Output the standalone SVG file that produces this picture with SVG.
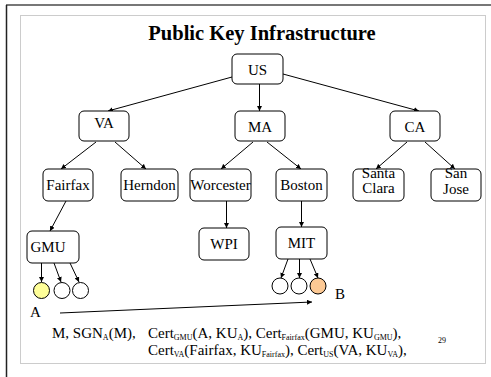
<svg xmlns="http://www.w3.org/2000/svg" width="491" height="377" viewBox="0 0 491 377" font-family="'Liberation Serif','Times New Roman',serif">
<style>
.n rect{fill:#fff;stroke:#000;stroke-width:1}
text{font-family:"Liberation Serif","Times New Roman",serif;fill:#000}
.t{font-family:"Liberation Serif","Times New Roman",serif;font-size:15px;text-anchor:middle}
.c line{stroke:#000;stroke-width:1}
.s{font-size:8px}
.b{font-family:"Liberation Serif","Times New Roman",serif;font-size:15px}
</style>
<defs>
<marker id="ah" viewBox="0 0 6 6" refX="6" refY="3" markerWidth="5" markerHeight="5" orient="auto" markerUnits="userSpaceOnUse">
<path d="M0,0 L6,3 L0,6 z" fill="#000"/>
</marker>
</defs>
<rect x="0" y="0" width="491" height="377" fill="#fff"/>
<line x1="6" y1="5" x2="491" y2="5" stroke="#777" stroke-width="2"/>
<line x1="6.5" y1="5" x2="6.5" y2="377" stroke="#222" stroke-width="1.5"/>
<rect x="20.5" y="15.5" width="465" height="348" fill="none" stroke="#ccc" stroke-width="1"/>
<text x="262" y="40" font-size="20.5" font-weight="bold" text-anchor="middle">Public Key Infrastructure</text>

<g class="c" id="connectors">
<line x1="232" y1="77" x2="108" y2="111" marker-end="url(#ah)"/>
<line x1="259.5" y1="84" x2="259.5" y2="111" marker-end="url(#ah)"/>
<line x1="283" y1="74" x2="419" y2="111" marker-end="url(#ah)"/>
<line x1="96" y1="142" x2="61" y2="169" marker-end="url(#ah)"/>
<line x1="115" y1="142" x2="146" y2="169" marker-end="url(#ah)"/>
<line x1="253" y1="142" x2="221" y2="169" marker-end="url(#ah)"/>
<line x1="267" y1="142" x2="301" y2="169" marker-end="url(#ah)"/>
<line x1="407" y1="142" x2="376" y2="169" marker-end="url(#ah)"/>
<line x1="425" y1="142" x2="455" y2="169" marker-end="url(#ah)"/>
<line x1="66" y1="201" x2="50" y2="231" marker-end="url(#ah)"/>
<line x1="226.5" y1="201" x2="226.5" y2="228" marker-end="url(#ah)"/>
<line x1="301.5" y1="201" x2="301.5" y2="227" marker-end="url(#ah)"/>
<line x1="41.5" y1="263" x2="41.5" y2="282" marker-end="url(#ah)"/>
<line x1="54" y1="263" x2="61" y2="282" marker-end="url(#ah)"/>
<line x1="70" y1="263" x2="79" y2="282" marker-end="url(#ah)"/>
<line x1="288" y1="259" x2="281" y2="278" marker-end="url(#ah)"/>
<line x1="299.5" y1="259" x2="299.5" y2="278" marker-end="url(#ah)"/>
<line x1="310" y1="259" x2="318" y2="278" marker-end="url(#ah)"/>
<line x1="60" y1="313" x2="312" y2="302" marker-end="url(#ah)"/>
</g>

<g class="n" id="US"><rect x="232" y="54" width="51" height="30" rx="5"/><text class="t" x="257.5" y="75">US</text></g>
<g class="n" id="VA"><rect x="79" y="111" width="50" height="30" rx="5"/><text class="t" x="104" y="128">VA</text></g>
<g class="n" id="MA"><rect x="235" y="111" width="50" height="30" rx="5"/><text class="t" x="260" y="132">MA</text></g>
<g class="n" id="CA"><rect x="390" y="111" width="50" height="30" rx="5"/><text class="t" x="415" y="132">CA</text></g>
<g class="n" id="Fairfax"><rect x="43" y="169" width="50" height="32" rx="5"/><text class="t" x="68" y="190">Fairfax</text></g>
<g class="n" id="Herndon"><rect x="121" y="169" width="57" height="32" rx="5"/><text class="t" x="149.5" y="190">Herndon</text></g>
<g class="n" id="Worcester"><rect x="190" y="169" width="61" height="32" rx="5"/><text class="t" x="220.5" y="190">Worcester</text></g>
<g class="n" id="Boston"><rect x="276" y="169" width="51" height="32" rx="5"/><text class="t" x="301.5" y="190">Boston</text></g>
<g class="n" id="SantaClara"><rect x="353" y="169" width="51" height="32" rx="5"/><text class="t" x="378.5" y="178">Santa</text><text class="t" x="378.5" y="193">Clara</text></g>
<g class="n" id="SanJose"><rect x="431" y="169" width="50" height="32" rx="5"/><text class="t" x="456" y="178">San</text><text class="t" x="456" y="194">Jose</text></g>
<g class="n" id="GMU"><rect x="27" y="231" width="52" height="32" rx="5"/><text class="t" x="48" y="252">GMU</text></g>
<g class="n" id="WPI"><rect x="199" y="228" width="50" height="32" rx="5"/><text class="t" x="224" y="249">WPI</text></g>
<g class="n" id="MIT"><rect x="276" y="227" width="51" height="32" rx="5"/><text class="t" x="301.5" y="248">MIT</text></g>

<g id="usersGMU" stroke="#000" stroke-width="1">
<circle cx="41.5" cy="290.5" r="8" fill="#ffff99"/>
<circle cx="62" cy="290.5" r="8" fill="#fff"/>
<circle cx="80.5" cy="290.5" r="8" fill="#fff"/>
</g>
<g id="usersMIT" stroke="#000" stroke-width="1">
<circle cx="280" cy="286" r="8" fill="#fff"/>
<circle cx="299" cy="286" r="8" fill="#fff"/>
<circle cx="318" cy="286" r="8" fill="#fdc994"/>
</g>
<text class="b" x="30" y="317">A</text>
<text class="b" x="335" y="299">B</text>

<text class="b" x="52" y="338">M, SGN<tspan class="s" dy="2">A</tspan><tspan dy="-2">(M),</tspan></text>
<text class="b" x="148" y="338">Cert<tspan class="s" dy="2">GMU</tspan><tspan dy="-2">(A, KU</tspan><tspan class="s" dy="2">A</tspan><tspan dy="-2">), Cert</tspan><tspan class="s" dy="2">Fairfax</tspan><tspan dy="-2">(GMU, KU</tspan><tspan class="s" dy="2">GMU</tspan><tspan dy="-2">),</tspan></text>
<text class="b" x="148" y="355">Cert<tspan class="s" dy="2">VA</tspan><tspan dy="-2">(Fairfax, KU</tspan><tspan class="s" dy="2">Fairfax</tspan><tspan dy="-2">), Cert</tspan><tspan class="s" dy="2">US</tspan><tspan dy="-2">(VA, KU</tspan><tspan class="s" dy="2">VA</tspan><tspan dy="-2">),</tspan></text>
<text x="438" y="343" font-size="8">29</text>
</svg>
